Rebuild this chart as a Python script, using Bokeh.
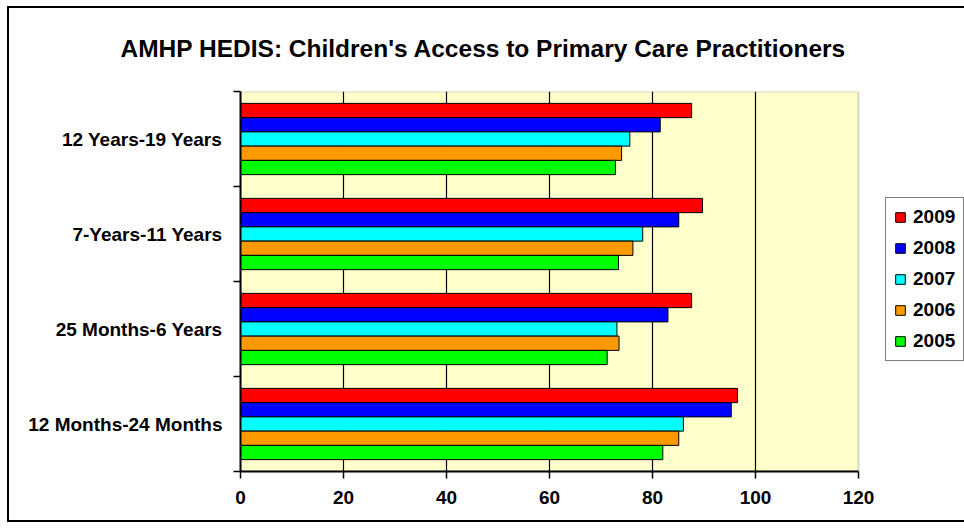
from bokeh.plotting import figure
from bokeh.models import (ColumnDataSource, Range1d, FixedTicker, Legend, LegendItem,
                          BoxAnnotation, InlineStyleSheet)
from bokeh.transform import dodge
from bokeh.embed import file_html
from bokeh.resources import INLINE

# Categories from bottom to top (as drawn on the y axis)
categories = ["12 Months-24 Months", "25 Months-6 Years", "7-Years-11 Years", "12 Years-19 Years"]
years = ["2009", "2008", "2007", "2006", "2005"]
v2009 = [96.5, 87.6, 89.7, 87.6]
v2008 = [95.3, 83.0, 85.1, 81.5]
v2007 = [86.0, 73.1, 78.1, 75.6]
v2006 = [85.1, 73.5, 76.2, 74.0]
v2005 = [82.0, 71.2, 73.4, 72.8]
x_ticks = [0, 20, 40, 60, 80, 100, 120]
title_text = "AMHP HEDIS: Children's Access to Primary Care Practitioners"

colors = ["#FF0000", "#0000FF", "#00FFFF", "#FF9900", "#00FF00"]
offsets = [0.3, 0.15, 0.0, -0.15, -0.3]
FONT = "Liberation Sans"

x_max = x_ticks[-1]
PLOT_W = 618          # pixel width of the 0..x_max plot area
FRAME_W = 724         # frame extends to the right edge so the legend can sit there
x_end = x_max * FRAME_W / PLOT_W

series = [v2009, v2008, v2007, v2006, v2005]
data = {"yc": [i + 0.5 for i in range(len(categories))], "cat": categories}
for yname, vals in zip(years, series):
    data["y" + yname] = vals
src = ColumnDataSource(data)

p = figure(frame_width=FRAME_W, frame_height=380, output_backend="svg", toolbar_location=None,
           x_range=Range1d(0, x_end), y_range=Range1d(0, len(categories)),
           title=title_text, min_border_left=240, min_border_right=0,
           min_border_top=91, min_border_bottom=60)
p.background_fill_color = "white"
p.border_fill_color = "white"
p.outline_line_color = None

css = (":host::after { content: ''; position: absolute; left: 7px; top: 6px; "
       "width: 957px; height: 516px; border: 2px solid black; border-right: none; "
       "box-sizing: border-box; pointer-events: none; z-index: 50; }")
p.stylesheets = [InlineStyleSheet(css=css)]

p.title.align = "left"
p.title.offset = -120
p.title.standoff = 59
p.title.text_font = FONT
p.title.text_font_style = "bold"
p.title.text_font_size = "24.5px"
p.title.text_color = "black"

# plot area (light yellow with grey top/right border)
area = BoxAnnotation(left=0, right=x_max, bottom=0, top=len(categories),
                     fill_color="#FFFFCC", fill_alpha=1.0,
                     line_color="#808080", line_width=2, level="image")
p.add_layout(area)

renderers = []
for yname, c, off in zip(years, colors, offsets):
    r = p.hbar(y=dodge("yc", off), left=0, right="y" + yname, height=0.15,
               fill_color=c, line_color="black", line_width=1, source=src)
    renderers.append(r)

# X axis
xa = p.xaxis[0]
xa.ticker = FixedTicker(ticks=x_ticks)
xa.bounds = (0, x_max)
xa.minor_tick_line_color = None
xa.major_tick_out = 7
xa.major_tick_in = 0
xa.axis_line_color = "black"
xa.axis_line_width = 2
xa.major_tick_line_width = 1.5
xa.major_label_text_font = FONT
xa.major_label_text_font_style = "bold"
xa.major_label_text_font_size = "19px"
xa.major_label_text_color = "black"
xa.major_label_standoff = 12

# Y axis: labels at group centres, ticks at group boundaries
ya = p.yaxis[0]
ya.ticker = FixedTicker(ticks=[i + 0.5 for i in range(len(categories))],
                        minor_ticks=list(range(len(categories) + 1)))
ya.major_label_overrides = {i + 0.5: c for i, c in enumerate(categories)}
ya.major_tick_out = 0
ya.major_tick_in = 0
ya.major_tick_line_color = None
ya.minor_tick_out = 7
ya.minor_tick_in = 0
ya.minor_tick_line_color = "black"
ya.minor_tick_line_width = 1.5
ya.axis_line_color = "black"
ya.axis_line_width = 2
ya.major_label_text_font = FONT
ya.major_label_text_font_style = "bold"
ya.major_label_text_font_size = "19px"
ya.major_label_text_color = "black"
ya.major_label_standoff = 11

p.ygrid.visible = False
p.xgrid.grid_line_color = "black"
p.xgrid.grid_line_width = 1.2
p.xgrid.ticker = FixedTicker(ticks=x_ticks[1:-1])

legend = Legend(items=[LegendItem(label=y, renderers=[r]) for y, r in zip(years, renderers)],
                location=(645, 110), orientation="vertical",
                label_text_font=FONT, label_text_font_style="bold",
                label_text_font_size="19px", label_text_color="black",
                glyph_width=12, glyph_height=12, label_standoff=7,
                spacing=9, padding=8, margin=0,
                border_line_color="black", border_line_width=1,
                background_fill_color="white", background_fill_alpha=1.0)
p.add_layout(legend)

open("out.html", "w").write(file_html(p, INLINE))
